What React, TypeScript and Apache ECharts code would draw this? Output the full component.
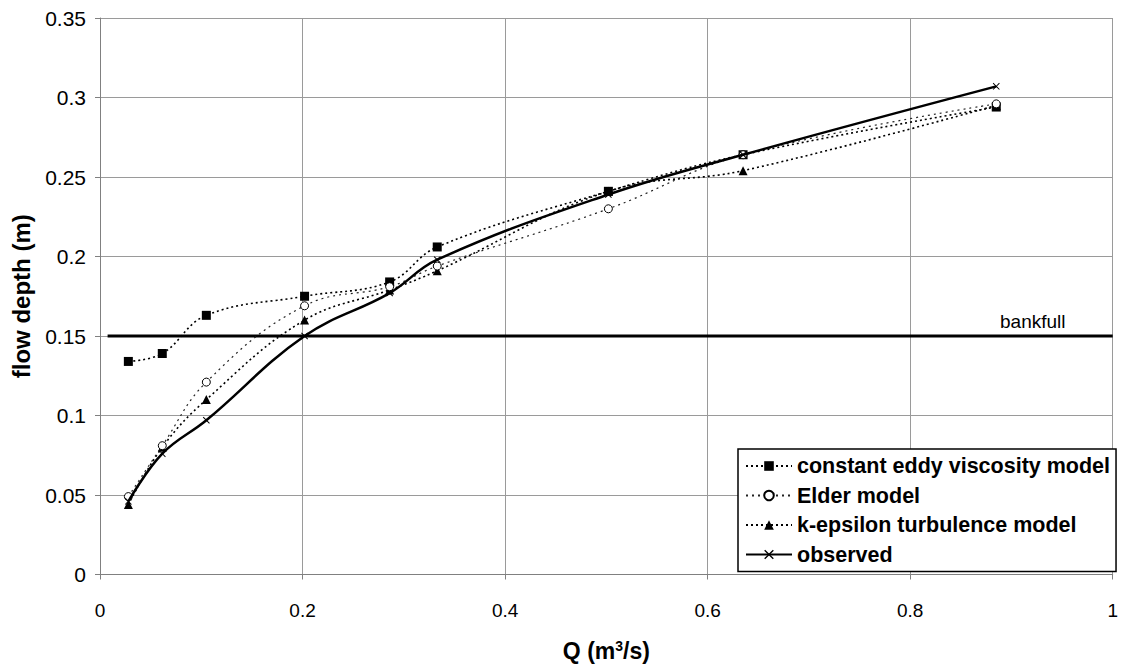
import React, { useEffect, useRef } from "react";
import * as echarts from "echarts";

const qValues = [0.028, 0.0615, 0.105, 0.202, 0.286, 0.333, 0.502, 0.635, 0.885];
const eddyValues = [0.134, 0.139, 0.163, 0.175, 0.184, 0.206, 0.241, 0.264, 0.294];
const elderValues = [0.049, 0.081, 0.121, 0.169, 0.181, 0.194, 0.23, 0.264, 0.296];
const kepsValues = [0.044, 0.08, 0.11, 0.16, 0.179, 0.191, 0.241, 0.254, 0.295];
const observedValues = [0.046, 0.076, 0.097, 0.15, 0.177, 0.198, 0.239, 0.264, 0.307];
const bankfullX = [0.0075, 1];
const bankfullY = [0.15, 0.15];
const seriesNames = [
  "constant eddy viscosity model",
  "Elder model",
  "k-epsilon turbulence model",
  "observed",
];

const xSymbol =
  "path://M0,1L1,0L5,4L9,0L10,1L6,5L10,9L9,10L5,6L1,10L0,9L4,5Z";

const pair = (ys: number[]) => qValues.map((q, i) => [q, ys[i]]);

export default function App() {
  const ref = useRef<HTMLDivElement>(null);
  useEffect(() => {
    const chart = echarts.init(ref.current!, null, { renderer: "svg" });
    const font = "Liberation Sans, Arial, sans-serif";
    chart.setOption({
      animation: false,
      backgroundColor: "#fff",
      grid: { left: 100, right: 4, top: 18, bottom: 89, containLabel: false },
      xAxis: {
        type: "value",
        min: 0,
        max: 1,
        interval: 0.2,
        axisLine: { show: true, lineStyle: { color: "#808080", width: 1 } },
        axisTick: { show: true, length: 5, lineStyle: { color: "#808080" } },
        splitLine: { show: true, lineStyle: { color: "#9a9a9a", width: 1 } },
        axisLabel: { color: "#000", fontSize: 19, fontFamily: font, margin: 26 },
        name: "{a|Q (m}{s|3}{a|/s)}",
        nameLocation: "middle",
        nameGap: 64,
        nameTextStyle: {
          rich: {
            a: { fontSize: 23, fontWeight: "bold", fontFamily: font, color: "#000" },
            s: {
              fontSize: 14,
              fontWeight: "bold",
              fontFamily: font,
              color: "#000",
              verticalAlign: "top",
              padding: [0, 0, 10, 0],
            },
          },
        },
      },
      yAxis: {
        type: "value",
        min: 0,
        max: 0.35,
        interval: 0.05,
        axisLine: { show: true, lineStyle: { color: "#808080", width: 1 } },
        axisTick: { show: true, length: 5, lineStyle: { color: "#808080" } },
        splitLine: { show: true, lineStyle: { color: "#9a9a9a", width: 1 } },
        axisLabel: { color: "#000", fontSize: 21, fontFamily: font, margin: 14 },
        name: "flow depth (m)",
        nameLocation: "middle",
        nameGap: 67,
        nameTextStyle: { fontSize: 24, fontWeight: "bold", fontFamily: font, color: "#000" },
      },
      legend: {
        orient: "vertical",
        left: 738,
        top: 449,
        padding: [6, 6, 6, 7],
        itemGap: 7.5,
        itemWidth: 46,
        itemHeight: 12,
        borderColor: "#000",
        borderWidth: 1.5,
        backgroundColor: "#fff",
        textStyle: { fontSize: 21.5, fontWeight: "bold", fontFamily: font, color: "#000" },
        data: seriesNames,
      },
      series: [
        {
          name: "bankfull",
          type: "line",
          data: bankfullX.map((x, i) => [x, bankfullY[i]]),
          showSymbol: false,
          lineStyle: { color: "#000", width: 3 },
          silent: true,
          z: 1,
        },
        {
          name: seriesNames[0],
          type: "line",
          data: pair(eddyValues),
          smooth: 0.4,
          symbol: "rect",
          symbolSize: 9,
          itemStyle: { color: "#000" },
          lineStyle: { color: "#000", width: 1.6, type: [2, 3] },
          z: 3,
        },
        {
          name: seriesNames[1],
          type: "line",
          data: pair(elderValues),
          smooth: 0.4,
          symbol: "circle",
          symbolSize: 8,
          itemStyle: { color: "#fff", borderColor: "#000", borderWidth: 1 },
          lineStyle: { color: "#222", width: 1.2, type: [2, 4] },
          z: 4,
        },
        {
          name: seriesNames[2],
          type: "line",
          data: pair(kepsValues),
          smooth: 0.4,
          symbol: "triangle",
          symbolSize: 9,
          itemStyle: { color: "#000" },
          lineStyle: { color: "#000", width: 1.6, type: [2, 3] },
          z: 3,
        },
        {
          name: seriesNames[3],
          type: "line",
          data: pair(observedValues),
          smooth: 0.4,
          symbol: xSymbol,
          symbolSize: 7,
          itemStyle: { color: "#000" },
          lineStyle: { color: "#000", width: 2.5, type: "solid" },
          z: 5,
        },
      ],
      graphic: [
        {
          type: "text",
          left: 1000,
          top: 312,
          style: { text: "bankfull", fontSize: 19, fontFamily: font, fill: "#000" },
        },
      ],
    });
    return () => chart.dispose();
  }, []);
  return (
    <div
      ref={ref}
      style={{ position: "fixed", left: 0, top: 0, width: 1121, height: 667 }}
    />
  );
}
